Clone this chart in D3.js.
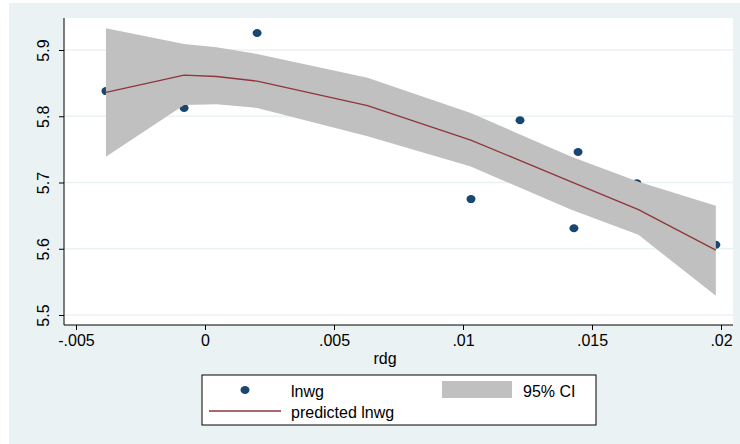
<!DOCTYPE html>
<html><head><meta charset="utf-8">
<script src="https://cdn.jsdelivr.net/npm/d3@7"></script>
<style>body{margin:0;background:#fff}svg{display:block;font-family:"Liberation Sans",Arial,sans-serif}</style>
</head><body><svg id="c" width="740" height="444"></svg>
<script>
// observed points
var rdg = [-0.00384, -0.00081, 0.00202, 0.01031, 0.01221, 0.01446, 0.0143, 0.01674, 0.0198];
var lnwg = [5.838, 5.8125, 5.9256, 5.675, 5.794, 5.746, 5.631, 5.699, 5.606];
// fitted line and 95% CI
var fitX = [-0.00384, -0.00081, 0.00045, 0.00202, 0.0063, 0.0103, 0.0142, 0.0168, 0.0198];
var fitY = [5.836, 5.862, 5.860, 5.853, 5.816, 5.764, 5.701, 5.659, 5.598];
var ciHi = [5.933, 5.909, 5.904, 5.894, 5.858, 5.805, 5.739, 5.701, 5.665];
var ciLo = [5.739, 5.817, 5.818, 5.8125, 5.770, 5.724, 5.659, 5.621, 5.529];
var xTicks = [-0.005, 0, 0.005, 0.01, 0.015, 0.02];
var xTickLabels = ["-.005", "0", ".005", ".01", ".015", ".02"];
var yTicks = [5.5, 5.6, 5.7, 5.8, 5.9];

var svg = d3.select("#c");
svg.append("rect").attr("x", 9).attr("y", 3).attr("width", 731).attr("height", 441).attr("fill", "#eaf2f3");
svg.append("rect").attr("x", 64).attr("y", 18).attr("width", 669).attr("height", 307).attr("fill", "#fff");

var x = d3.scaleLinear().domain([-0.005, 0.02]).range([76, 721]);
var y = d3.scaleLinear().domain([5.5, 5.9]).range([315, 50]);

svg.selectAll(".grid").data(yTicks).enter().append("line")
    .attr("x1", 64).attr("x2", 733)
    .attr("y1", function(d){ return y(d); }).attr("y2", function(d){ return y(d); })
    .attr("stroke", "#eaf2f3").attr("stroke-width", 1.5);

// points first, the band is drawn over them
svg.selectAll(".pt").data(rdg).enter().append("ellipse")
    .attr("cx", function(d){ return x(d); })
    .attr("cy", function(d, i){ return y(lnwg[i]); })
    .attr("rx", 4.5).attr("ry", 4)
    .attr("fill", "#1a476f");

var band = fitX.map(function(d, i){ return [d, ciLo[i], ciHi[i]]; });
svg.append("path").datum(band)
    .attr("fill", "#c0c0c0")
    .attr("d", d3.area().x(function(d){ return x(d[0]); }).y0(function(d){ return y(d[1]); }).y1(function(d){ return y(d[2]); }));

svg.append("path").datum(fitX)
    .attr("fill", "none").attr("stroke", "#90353b").attr("stroke-width", 1.3)
    .attr("d", d3.line().x(function(d){ return x(d); }).y(function(d, i){ return y(fitY[i]); }));

var xa = svg.append("g").attr("transform", "translate(0,325)")
    .call(d3.axisBottom(x).tickValues(xTicks).tickSize(5).tickPadding(5)
        .tickFormat(function(d, i){ return xTickLabels[i]; }));
xa.select(".domain").attr("d", "M64,0H733").attr("stroke", "#000");
xa.selectAll("text").attr("font-size", 16).attr("fill", "#000").attr("font-family", "Liberation Sans, Arial");

var ya = svg.append("g").attr("transform", "translate(64,0)")
    .call(d3.axisLeft(y).tickValues(yTicks).tickSize(5).tickFormat(d3.format(".1f")));
ya.select(".domain").attr("d", "M0,18V325").attr("stroke", "#000");
ya.selectAll("text").attr("font-size", 16).attr("fill", "#000").attr("font-family", "Liberation Sans, Arial")
    .attr("x", 0).attr("y", 0).attr("dy", 0).attr("text-anchor", "middle")
    .attr("transform", "translate(-15,0) rotate(-90)");

svg.append("text").attr("x", 385).attr("y", 364).attr("text-anchor", "middle")
    .attr("font-size", 16).text("rdg");

// legend
var lg = svg.append("g");
lg.append("rect").attr("x", 202).attr("y", 375).attr("width", 394).attr("height", 50)
    .attr("fill", "#fff").attr("stroke", "#000");
lg.append("ellipse").attr("cx", 245).attr("cy", 390).attr("rx", 4.5).attr("ry", 4).attr("fill", "#1a476f");
lg.append("line").attr("x1", 209).attr("x2", 281).attr("y1", 411).attr("y2", 411)
    .attr("stroke", "#90353b").attr("stroke-width", 1.3);
lg.append("rect").attr("x", 442).attr("y", 381).attr("width", 70).attr("height", 17).attr("fill", "#c0c0c0");
lg.append("text").attr("x", 291).attr("y", 397).attr("font-size", 16).text("lnwg");
lg.append("text").attr("x", 291).attr("y", 418).attr("font-size", 16).text("predicted lnwg");
lg.append("text").attr("x", 523).attr("y", 397).attr("font-size", 16).text("95% CI");
</script></body></html>
